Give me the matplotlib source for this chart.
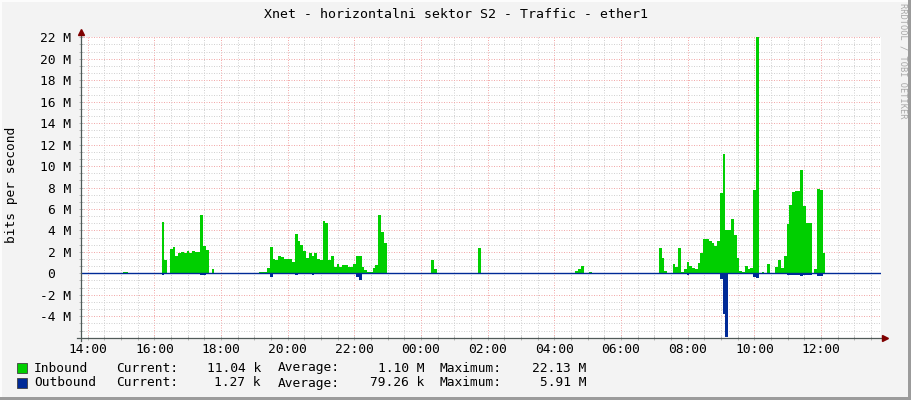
import numpy as np
import matplotlib
matplotlib.use('Agg')
from matplotlib import pyplot as plt
from matplotlib.patches import Rectangle

plt.rcParams['font.family'] = ['DejaVu Sans Mono']

# 5-minute samples, one row per hour starting at 14:00 (Mbit/s)
inbound = [
    [0, 0, 0, 0, 0, 0, 0, 0, 0, 0, 0, 0],                                   # 14:00
    [0.1, 0.15, 0, 0, 0, 0, 0, 0, 0, 0, 0, 0],                              # 15:00
    [0, 0, 4.75, 1.25, 0.05, 2.25, 2.45, 1.65, 1.85, 2.0, 1.9, 2.05],       # 16:00
    [1.9, 2.05, 1.95, 1.95, 5.45, 2.55, 2.15, 0.05, 0.4, 0, 0, 0],          # 17:00
    [0, 0, 0, 0, 0, 0, 0, 0, 0, 0, 0, 0],                                   # 18:00
    [0, 0.1, 0.1, 0.1, 0.5, 2.5, 1.35, 1.2, 1.6, 1.55, 1.35, 1.3],          # 19:00
    [1.3, 1.1, 3.65, 3.05, 2.6, 2.05, 1.4, 1.9, 1.6, 1.85, 1.3, 1.25],      # 20:00
    [4.87, 4.65, 1.25, 1.6, 0.6, 0.85, 0.6, 0.75, 0.75, 0.6, 0.6, 0.9],     # 21:00
    [1.6, 1.6, 0.6, 0.3, 0.15, 0.15, 0.5, 0.75, 5.43, 3.88, 2.8, 0],        # 22:00
    [0, 0, 0, 0, 0, 0, 0, 0, 0, 0, 0, 0],                                   # 23:00
    [0, 0, 0, 1.24, 0.4, 0.05, 0, 0, 0, 0, 0, 0],                           # 00:00
    [0, 0, 0, 0, 0, 0, 0, 0, 2.4, 0, 0, 0],                                 # 01:00
    [0, 0, 0, 0, 0, 0, 0, 0, 0, 0, 0, 0],                                   # 02:00
    [0, 0, 0, 0, 0, 0, 0, 0, 0, 0, 0, 0],                                   # 03:00
    [0, 0, 0, 0, 0, 0, 0.05, 0.25, 0.37, 0.68, 0.05, 0],                    # 04:00
    [0.15, 0, 0, 0, 0, 0, 0, 0, 0, 0, 0, 0],                                # 05:00
    [0, 0, 0, 0, 0, 0, 0, 0, 0, 0, 0, 0],                                   # 06:00
    [0, 2.4, 1.46, 0.25, 0.05, 0.05, 0.87, 0.62, 2.4, 0.1, 0.37, 1.1],      # 07:00
    [0.68, 0.47, 0.37, 1.0, 1.86, 3.17, 3.17, 3.05, 2.86, 2.55, 3.0, 7.45], # 08:00
    [11.1, 4.0, 4.0, 5.1, 3.57, 1.45, 0.25, 0.1, 0.68, 0.37, 0.47, 7.76],   # 09:00
    [22.13, 0, 0.15, 0.05, 0.87, 0.05, 0.05, 0.56, 1.24, 0.47, 1.6, 4.6],   # 10:00
    [6.4, 7.55, 7.65, 7.7, 9.63, 6.3, 4.66, 4.66, 0, 0.37, 7.83, 7.76],     # 11:00
    [1.9, 0, 0, 0, 0, 0, 0, 0, 0, 0, 0, 0],                                 # 12:00
    [0, 0, 0, 0, 0, 0, 0, 0, 0, 0, 0, 0],                                   # 13:00
]
outbound = [
    [0, 0, 0, 0, 0, 0, 0, 0, 0, 0, 0, 0],
    [0, 0, 0, 0, 0, 0, 0, 0, 0, 0, 0, 0],
    [0, 0, 0.15, 0.1, 0, 0, 0, 0, 0, 0, 0, 0],
    [0, 0, 0, 0, 0.15, 0.15, 0, 0, 0, 0, 0, 0],
    [0, 0, 0, 0, 0, 0, 0, 0, 0, 0, 0, 0],
    [0, 0, 0, 0, 0, 0.35, 0, 0, 0, 0, 0, 0],
    [0, 0, 0.15, 0, 0, 0, 0, 0, 0.15, 0, 0, 0],
    [0, 0, 0, 0, 0, 0, 0, 0, 0, 0, 0, 0],
    [0.35, 0.65, 0, 0, 0, 0, 0, 0, 0.1, 0.1, 0.1, 0],
    [0, 0, 0, 0, 0, 0, 0, 0, 0, 0, 0, 0],
    [0, 0, 0, 0, 0, 0, 0, 0, 0, 0, 0, 0],
    [0, 0, 0, 0, 0, 0, 0, 0, 0, 0, 0, 0],
    [0, 0, 0, 0, 0, 0, 0, 0, 0, 0, 0, 0],
    [0, 0, 0, 0, 0, 0, 0, 0, 0, 0, 0, 0],
    [0, 0, 0, 0, 0, 0, 0, 0, 0, 0, 0, 0],
    [0, 0, 0, 0, 0, 0, 0, 0, 0, 0, 0, 0],
    [0, 0, 0, 0, 0, 0, 0, 0, 0, 0, 0, 0],
    [0, 0, 0, 0, 0, 0, 0, 0, 0, 0, 0, 0.15],
    [0.1, 0, 0, 0, 0, 0, 0, 0, 0, 0, 0, 0.5],
    [3.75, 5.91, 0, 0, 0, 0, 0, 0, 0, 0, 0, 0.3],
    [0.45, 0, 0, 0, 0, 0, 0, 0, 0, 0, 0, 0.12],
    [0.12, 0.12, 0.12, 0.12, 0.25, 0.12, 0.12, 0.12, 0, 0, 0.25, 0.25],
    [0, 0, 0, 0, 0, 0, 0, 0, 0, 0, 0, 0],
    [0, 0, 0, 0, 0, 0, 0, 0, 0, 0, 0, 0],
]

x_labels = ['14:00', '16:00', '18:00', '20:00', '22:00', '00:00',
            '02:00', '04:00', '06:00', '08:00', '10:00', '12:00']
y_ticks = [-4, -2, 0, 2, 4, 6, 8, 10, 12, 14, 16, 18, 20, 22]
y_labels = ['-4 M', '-2 M', '0  ', '2 M', '4 M', '6 M', '8 M', '10 M',
            '12 M', '14 M', '16 M', '18 M', '20 M', '22 M']

title = 'Xnet - horizontalni sektor S2 - Traffic - ether1'
legend_rows = [
    ('Inbound', '11.04 k', '1.10 M', '22.13 M'),
    ('Outbound', '1.27 k', '79.26 k', '5.91 M'),
]

IN_COLOR = '#00CF00'
OUT_COLOR = '#002A97'
BG = '#F3F3F3'

W, H = 911, 400
fig = plt.figure(figsize=(W / 100, H / 100), dpi=100, facecolor=BG)

# plot area in pixels: x 81..881, y 37.3..337.7
L, R, T, B = 81, 881, 37.3, 337.7
ax = fig.add_axes([L / W, 1 - B / H, (R - L) / W, (B - T) / H])
ax.set_facecolor('white')

inb = np.array(inbound).ravel()
outb = np.array(outbound).ravel()
edges = np.arange(len(inb) + 1) * 5 / 60.0 + 0.05   # hours after 14:00

ax.stairs(inb, edges, baseline=0, fill=True, color=IN_COLOR, lw=0, zorder=3)
ax.stairs(-outb, edges, baseline=0, fill=True, color=OUT_COLOR, lw=0, zorder=3)
ax.axhline(0, color=OUT_COLOR, lw=1.0, zorder=4)

ax.set_xlim(-0.2, 23.8)
ax.set_ylim(-6, 22)

ax.set_xticks(np.arange(0, 24, 2))
ax.set_xticklabels(x_labels)
ax.set_xticks(np.arange(-0.0, 23.8, 0.5), minor=True)
ax.set_yticks(y_ticks)
ax.set_yticklabels(y_labels)
ax.set_yticks(np.arange(-6, 22.01, 2 / 3), minor=True)

ax.grid(which='minor', color='#D2D2D2', lw=0.72, ls=(0, (1, 1.5)), zorder=1)
ax.grid(which='major', color='#F2AAAA', lw=0.72, ls=(0, (1, 1.5)), zorder=2)
ax.set_axisbelow(True)

for s in ['top', 'right', 'left', 'bottom']:
    ax.spines[s].set_visible(False)

ax.tick_params(which='both', direction='inout', color='#B8B8B8', width=0.72)
ax.tick_params(which='major', length=3.5, labelsize=9.3, labelcolor='black')
ax.tick_params(which='minor', length=2.5)
ax.tick_params(axis='x', which='major', pad=2.2)
ax.tick_params(axis='y', which='major', pad=5.5)

# axis lines with arrows (axes fraction from pixel offsets)
fx = lambda px: (px - L) / (R - L)
fy = lambda py: (B - py) / (B - T)
ax.plot([fx(77), fx(884)], [0, 0], transform=ax.transAxes, color='#505a58',
        lw=0.9, clip_on=False, zorder=6)
ax.plot([0, 0], [fy(341), fy(32)], transform=ax.transAxes, color='#505a58',
        lw=0.9, clip_on=False, zorder=6)
ax.plot([fx(885)], [0], transform=ax.transAxes, marker='>', ms=5,
        color='#7F0000', clip_on=False, zorder=7)
ax.plot([0], [fy(32)], transform=ax.transAxes, marker='^', ms=5,
        color='#7F0000', clip_on=False, zorder=7)

fig.text(12 / W, 1 - 185 / H, 'bits per second', rotation=90,
         ha='center', va='center', fontsize=9.3)

fig.text(0.5, 1 - 14 / H, title, ha='center', va='center', fontsize=9.5)
fig.text(903 / W, 1 - 61 / H, 'RRDTOOL / TOBI OETIKER', rotation=270,
         ha='center', va='center', fontsize=6.2, color='#A8A8A8')

# legend
for i, (name, cur, avg, mx) in enumerate(legend_rows):
    yc = 1 - (368 + 15 * i) / H
    color = IN_COLOR if i == 0 else OUT_COLOR
    fig.patches.append(Rectangle((17 / W, yc - 5 / H), 10 / W, 10 / H,
                                 transform=fig.transFigure, facecolor=color,
                                 edgecolor='#404040', lw=0.6))
    fig.text(34 / W, yc, name, va='center', fontsize=9.3)
    fig.text(116 / W, yc, 'Current:', va='center', fontsize=9.3)
    fig.text(261 / W, yc, cur, va='center', ha='right', fontsize=9.3)
    fig.text(278 / W, yc, 'Average:', va='center', fontsize=9.3)
    fig.text(424 / W, yc, avg, va='center', ha='right', fontsize=9.3)
    fig.text(440 / W, yc, 'Maximum:', va='center', fontsize=9.3)
    fig.text(586 / W, yc, mx, va='center', ha='right', fontsize=9.3)

# 3d-ish frame of the canvas
fig.patches.append(Rectangle((0, 0), 2 / W, 1, transform=fig.transFigure,
                             facecolor='#FCFCFC', lw=0))
fig.patches.append(Rectangle((0, 1 - 2 / H), 1, 2 / H, transform=fig.transFigure,
                             facecolor='#FCFCFC', lw=0))
fig.patches.append(Rectangle((1 - 3 / W, 0), 3 / W, 1, transform=fig.transFigure,
                             facecolor='#9B9B9B', lw=0))
fig.patches.append(Rectangle((0, 0), 1, 3 / H, transform=fig.transFigure,
                             facecolor='#9B9B9B', lw=0))

fig.savefig('out.png', dpi=100, facecolor=BG)
